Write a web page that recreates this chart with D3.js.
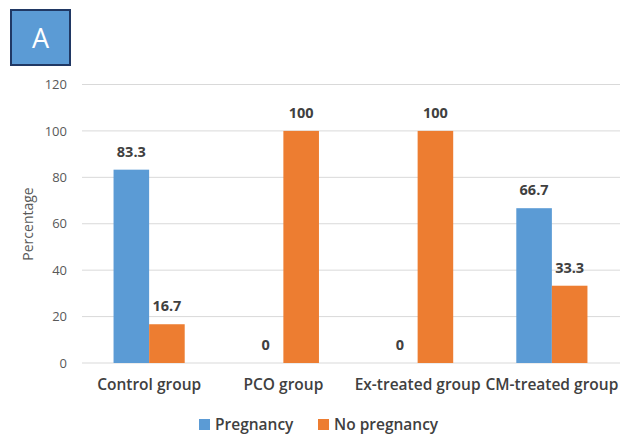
<!DOCTYPE html>
<html><head><meta charset="utf-8">
<script src="https://cdn.jsdelivr.net/npm/d3@7"></script>
<style>body{margin:0;background:#fff}svg{display:block}</style>
</head><body>
<svg id="chart" width="620" height="435"></svg>
<script>
const categories = ["Control group", "PCO group", "Ex-treated group", "CM-treated group"];
const seriesNames = ["Pregnancy", "No pregnancy"];
const pregnancy = [83.3, 0, 0, 66.7];
const noPregnancy = [16.7, 100, 100, 33.3];
const yTicks = [0, 20, 40, 60, 80, 100, 120];
const colors = ["#5b9bd5", "#ed7d31"];
const panelLabel = "A";
const yTitle = "Percentage";

(function () {
const svg = d3.select("#chart");
const font = "'Open Sans', sans-serif";
const pLeft = 82, pRight = 620, pTop = 84.5, pBottom = 363;

const x = d3.scaleBand().domain(categories).range([pLeft, 619]).paddingInner(0.47).paddingOuter(0.235);
const xs = d3.scaleBand().domain(seriesNames).range([0, x.bandwidth()]);
const y = d3.scaleLinear().domain([0, 120]).range([pBottom, pTop]);

// gridlines
svg.append("g").selectAll("line").data(yTicks).join("line")
  .attr("x1", pLeft).attr("x2", pRight)
  .attr("y1", d => y(d)).attr("y2", d => y(d))
  .attr("stroke", "#d9d9d9").attr("stroke-width", 1);

// y axis labels
const yAxis = d3.axisLeft(y).tickValues(yTicks).tickSize(0).tickPadding(0);
const ya = svg.append("g").attr("transform", `translate(67,0)`).call(yAxis);
ya.select(".domain").remove();
ya.selectAll("text").attr("font-family", font).attr("font-size", 13).attr("fill", "#595959");

// y title
svg.append("text").attr("transform", "translate(33,224) rotate(-90)")
  .attr("text-anchor", "middle").attr("font-family", font).attr("font-size", 14)
  .attr("fill", "#595959").text(yTitle);

// bars
const rows = categories.map((c, i) => ({c, vals: [pregnancy[i], noPregnancy[i]]}));
const groups = svg.append("g").selectAll("g").data(rows).join("g")
  .attr("transform", d => `translate(${x(d.c)},0)`);
groups.selectAll("rect").data(d => d.vals.map((v, j) => ({v, s: seriesNames[j], j}))).join("rect")
  .attr("x", d => xs(d.s)).attr("width", xs.bandwidth())
  .attr("y", d => y(d.v)).attr("height", d => y(0) - y(d.v))
  .attr("fill", d => colors[d.j]);
groups.selectAll("text").data(d => d.vals.map((v, j) => ({v, s: seriesNames[j], j}))).join("text")
  .attr("x", d => xs(d.s) + xs.bandwidth() / 2).attr("y", d => y(d.v) - 13)
  .attr("text-anchor", "middle").attr("font-family", font).attr("font-size", 14.5)
  .attr("font-weight", 700).attr("fill", "#404040").text(d => d.v);

// x axis labels
const xAxis = d3.axisBottom(x).tickSize(0).tickPadding(0);
const xa = svg.append("g").attr("transform", `translate(0,379)`).call(xAxis);
xa.select(".domain").remove();
xa.selectAll("text").attr("font-family", font).attr("font-size", 15.5).attr("font-weight", 600)
  .attr("fill", "#404040").attr("dy", "0.7em");

// legend
const legendX = [199, 318];
const lg = svg.append("g").selectAll("g").data(seriesNames).join("g")
  .attr("transform", (d, i) => `translate(${legendX[i]},419)`);
lg.append("rect").attr("width", 11).attr("height", 11).attr("fill", (d, i) => colors[i]);
lg.append("text").attr("x", 16).attr("y", 11).attr("font-family", font).attr("font-size", 15.5)
  .attr("font-weight", 600).attr("fill", "#404040").text(d => d);

// panel label
svg.append("rect").attr("x", 11).attr("y", 10).attr("width", 59).attr("height", 55)
  .attr("fill", "#5b9bd5").attr("stroke", "#203864").attr("stroke-width", 2);
svg.append("text").attr("x", 40.5).attr("y", 47.5).attr("text-anchor", "middle")
  .attr("font-family", font).attr("font-size", 27).attr("fill", "#fff").text(panelLabel);
})();
</script>
</body></html>
